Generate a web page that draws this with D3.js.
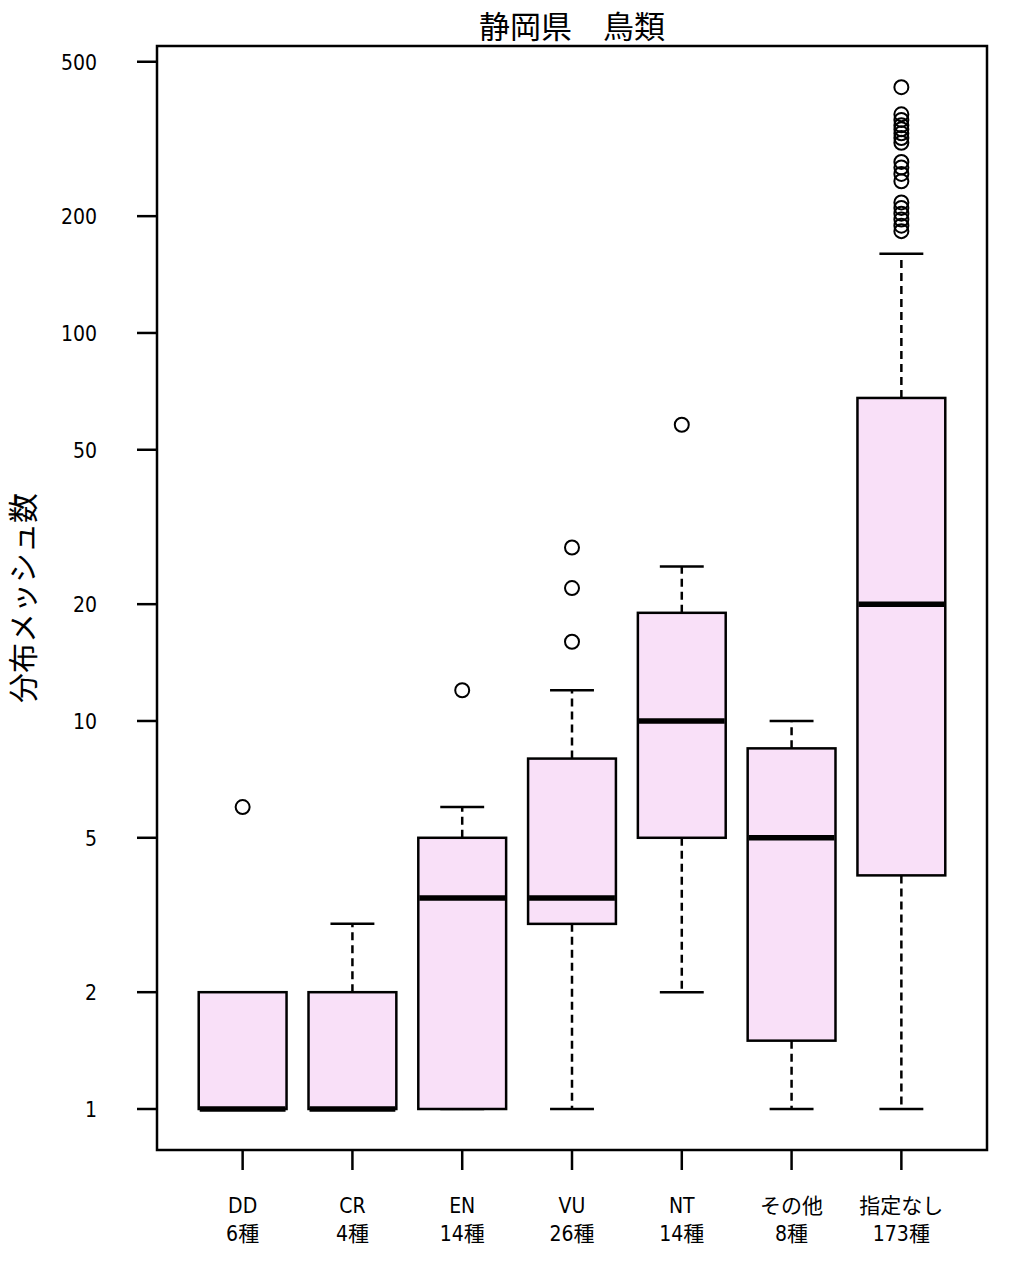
<!DOCTYPE html>
<html><head><meta charset="utf-8">
<script src="https://cdn.jsdelivr.net/npm/d3@7"></script>
<style>body{margin:0;background:#fff}svg{display:block}</style>
</head><body>
<script>
const categories = ["DD","CR","EN","VU","NT","その他","指定なし"];
const counts = ["6種","4種","14種","26種","14種","8種","173種"];
const lowerWhisker = [1,1,1,1,2,1,1];
const q1 = [1,1,1,3,5,1.5,4];
const median = [1,1,3.5,3.5,10,5,20];
const q3 = [2,2,5,8,19,8.5,68];
const upperWhisker = [2,3,6,12,25,10,160];
const outliers = [[6],[],[12],[16,22,28],[58],[],[430,366,354,343,335,327,318,309,276,267,257,246,217,210,203,196,189,183]];
const yTicks = [1,2,5,10,20,50,100,200,500];
const title = "静岡県　鳥類";
const yLabel = "分布メッシュ数";

const W = 1012, H = 1270;
const L = 157, R = 987, T = 46, B = 1150;
const svg = d3.select("body").append("svg").attr("width", W).attr("height", H);
const font = "'Noto Sans CJK JP','Noto Sans',sans-serif";
const narrow = "'Liberation Sans Narrow','DejaVu Sans Condensed','Noto Sans CJK JP',sans-serif";

const n = categories.length;
const x = d3.scaleLinear().domain([0.5 - 0.04*n, n + 0.5 + 0.04*n]).range([L, R]);
const y = d3.scaleLog().domain([0.784, 549]).range([B, T]);
const ux = x(1) - x(0);
const boxW = 0.8 * ux, capW = 0.4 * ux;

const g = svg.append("g");
categories.forEach((c, i) => {
  const cx = x(i + 1);
  const gg = g.append("g");
  gg.append("line").attr("x1", cx).attr("x2", cx).attr("y1", y(q3[i])).attr("y2", y(upperWhisker[i]))
    .attr("stroke", "#000").attr("stroke-width", 2.5).attr("stroke-dasharray", "8,5");
  gg.append("line").attr("x1", cx).attr("x2", cx).attr("y1", y(q1[i])).attr("y2", y(lowerWhisker[i]))
    .attr("stroke", "#000").attr("stroke-width", 2.5).attr("stroke-dasharray", "8,5");
  [upperWhisker[i], lowerWhisker[i]].forEach(v => {
    gg.append("line").attr("x1", cx - capW/2).attr("x2", cx + capW/2).attr("y1", y(v)).attr("y2", y(v))
      .attr("stroke", "#000").attr("stroke-width", 2.5);
  });
  gg.append("rect").attr("x", cx - boxW/2).attr("width", boxW)
    .attr("y", y(q3[i])).attr("height", y(q1[i]) - y(q3[i]))
    .attr("fill", "#f9e0f8").attr("stroke", "#000").attr("stroke-width", 2.5);
  gg.append("line").attr("x1", cx - boxW/2 + 1).attr("x2", cx + boxW/2 - 1).attr("y1", y(median[i])).attr("y2", y(median[i]))
    .attr("stroke", "#000").attr("stroke-width", 5.5);
  outliers[i].forEach(v => {
    gg.append("circle").attr("cx", cx).attr("cy", y(v)).attr("r", 7)
      .attr("fill", "none").attr("stroke", "#000").attr("stroke-width", 2);
  });
});

svg.append("rect").attr("x", L).attr("y", T).attr("width", R - L).attr("height", B - T)
  .attr("fill", "none").attr("stroke", "#000").attr("stroke-width", 2.5);

const ya = svg.append("g");
yTicks.forEach(t => {
  ya.append("line").attr("x1", L - 20).attr("x2", L).attr("y1", y(t)).attr("y2", y(t))
    .attr("stroke", "#000").attr("stroke-width", 2.5);
  ya.append("text").attr("x", 97).attr("y", y(t) + 8)
    .attr("text-anchor", "end").attr("font-family", narrow).attr("font-size", 21).text(t);
});

const xa = svg.append("g");
categories.forEach((c, i) => {
  const cx = x(i + 1);
  xa.append("line").attr("x1", cx).attr("x2", cx).attr("y1", B).attr("y2", B + 20)
    .attr("stroke", "#000").attr("stroke-width", 2.5);
  xa.append("text").attr("x", cx).attr("y", 1213)
    .attr("text-anchor", "middle").attr("font-family", narrow).attr("font-size", 21).text(c);
  xa.append("text").attr("x", cx).attr("y", 1241)
    .attr("text-anchor", "middle").attr("font-family", narrow).attr("font-size", 21).text(counts[i]);
});

svg.append("text").attr("x", (L + R) / 2).attr("y", 38).attr("text-anchor", "middle")
  .attr("font-family", font).attr("font-size", 31).text(title);
svg.append("text").attr("transform", `translate(34,${(T + B) / 2}) rotate(-90)`)
  .attr("text-anchor", "middle").attr("font-family", font).attr("font-size", 30).text(yLabel);
</script>
</body></html>
